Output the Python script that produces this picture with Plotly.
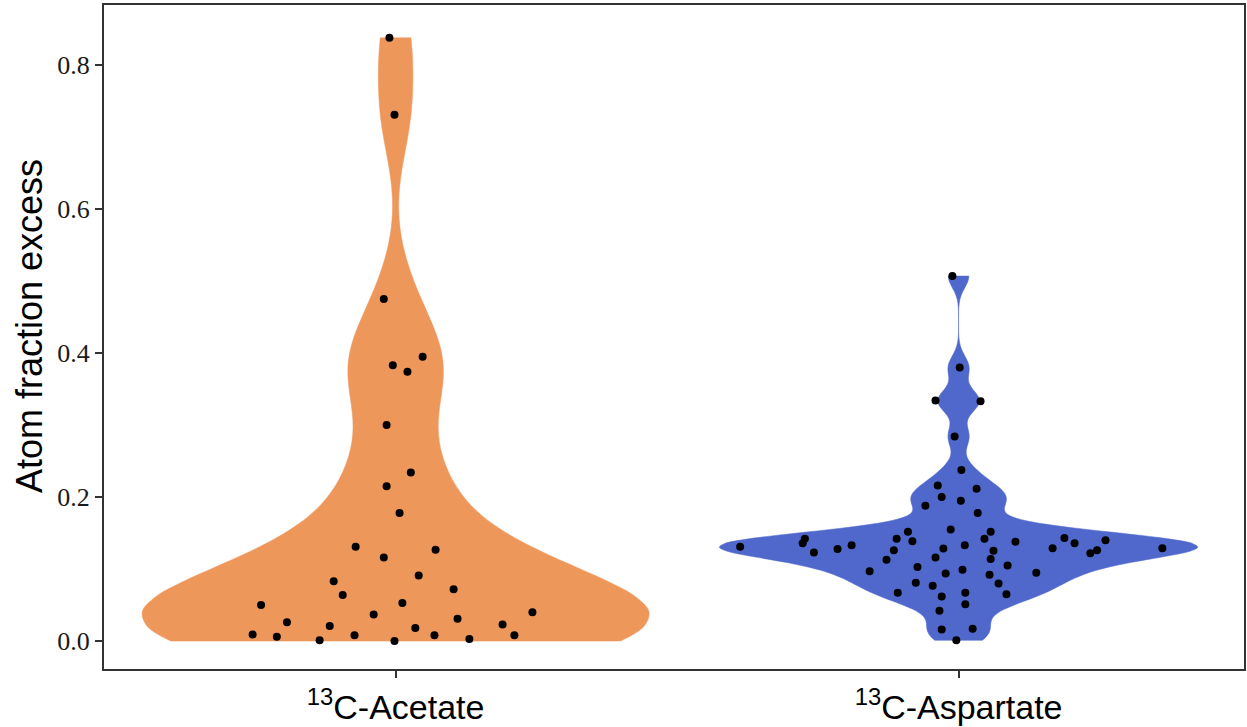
import numpy as np
import plotly.graph_objects as go

# Atom fraction excess per cell, with the horizontal spread of each point (category units)
acetate_y = [0.178, 0.131, 0.127, 0.116, 0.091, 0.083, 0.072, 0.064, 0.053, 0.050,
             0.040, 0.037, 0.031, 0.026, 0.023, 0.021, 0.018, 0.009, 0.006, 0.008,
             0.008, 0.008, 0.001, 0.000, 0.003, 0.838, 0.731, 0.475, 0.395, 0.383,
             0.374, 0.300, 0.234, 0.215]
acetate_dx = [0.007, -0.071, 0.071, -0.021, 0.041, -0.110, 0.103, -0.094, 0.012, -0.239,
              0.243, -0.039, 0.110, -0.193, 0.190, -0.117, 0.035, -0.254, -0.211, -0.073,
              0.069, 0.211, -0.135, -0.002, 0.131, -0.011, -0.002, -0.021, 0.048, -0.005,
              0.021, -0.016, 0.027, -0.016]

aspartate_y = [0.216, 0.2115, 0.200, 0.195, 0.188, 0.178, 0.155, 0.152, 0.152, 0.142,
               0.142, 0.142, 0.143, 0.140, 0.1385, 0.138, 0.136, 0.1357, 0.133, 0.133,
               0.131, 0.129, 0.129, 0.1287, 0.128, 0.126, 0.126, 0.1255, 0.123, 0.122,
               0.116, 0.114, 0.113, 0.105, 0.103, 0.099, 0.097, 0.095, 0.094, 0.092,
               0.081, 0.080, 0.077, 0.067, 0.067, 0.065, 0.062, 0.051, 0.042, 0.016,
               0.017, 0.001, 0.507, 0.380, 0.334, 0.333, 0.284, 0.2375]
aspartate_dx = [-0.037, 0.032, -0.030, 0.004, -0.059, 0.034, -0.014, -0.090, 0.057, -0.110,
                0.046, -0.273, 0.188, 0.261, -0.082, 0.101, -0.277, 0.206, -0.190, 0.011,
                -0.388, 0.362, 0.167, -0.027, -0.215, -0.115, 0.246, 0.062, -0.257, 0.234,
                -0.041, 0.057, -0.128, 0.087, -0.073, 0.007, -0.158, 0.138, -0.023, 0.055,
                -0.076, 0.071, -0.046, -0.108, 0.012, 0.085, -0.030, 0.012, -0.034, -0.030,
                0.025, -0.004, -0.011, 0.002, -0.041, 0.039, -0.007, 0.005]

categories = ["<sup>13</sup>C-Acetate", "<sup>13</sup>C-Aspartate"]
positions = [1, 2]
fills = ["#EE975B", "#5068CB"]
violin_widths = [0.90, 0.85]
y_ticks = [0.0, 0.2, 0.4, 0.6, 0.8]
y_title = "Atom fraction excess"


def nrd0(values):
    v = np.asarray(values, dtype=float)
    q75, q25 = np.percentile(v, [75, 25])
    spread = min(v.std(ddof=1), (q75 - q25) / 1.34)
    return 0.9 * spread * len(v) ** -0.2


fig = go.Figure()

for pos, ys, fill, w in zip(positions, [acetate_y, aspartate_y], fills, violin_widths):
    fig.add_trace(go.Violin(
        x=[pos] * len(ys), y=ys,
        width=w, scalemode="width", spanmode="hard",
        bandwidth=nrd0(ys),
        fillcolor=fill, line=dict(color=fill, width=0.5),
        opacity=1, points=False, hoverinfo="skip",
        box=dict(visible=False), meanline=dict(visible=False),
        showlegend=False,
    ))

for pos, ys, dxs in zip(positions, [acetate_y, aspartate_y], [acetate_dx, aspartate_dx]):
    fig.add_trace(go.Scatter(
        x=[pos + d for d in dxs], y=ys, mode="markers",
        marker=dict(color="black", size=8, line=dict(width=0)),
        showlegend=False, hoverinfo="skip",
    ))

axis_color = "#333333"
fig.update_layout(
    width=1247, height=727,
    margin=dict(l=104, r=1, t=5, b=57),
    paper_bgcolor="white", plot_bgcolor="white",
    violinmode="overlay",
    xaxis=dict(
        range=[0.482, 2.507], tickmode="array", tickvals=positions, ticktext=categories,
        showgrid=False, zeroline=False, showline=True, mirror=True,
        linecolor=axis_color, linewidth=2,
        ticks="outside", ticklen=7, tickwidth=1.5, tickcolor=axis_color,
        tickfont=dict(family="Liberation Sans, Arial, sans-serif", size=34, color="black"),
    ),
    yaxis=dict(
        range=[-0.0388, 0.8835], tickmode="array", tickvals=y_ticks,
        tickformat=".1f",
        showgrid=False, zeroline=False, showline=True, mirror=True,
        linecolor=axis_color, linewidth=2,
        ticks="outside", ticklen=7, tickwidth=1.5, tickcolor=axis_color,
        tickfont=dict(family="Liberation Serif, Times New Roman, serif", size=26, color="#1a1a1a"),
    ),
    annotations=[dict(
        text=y_title, textangle=-90, showarrow=False,
        xref="paper", yref="paper", x=-0.0655, y=0.517,
        xanchor="center", yanchor="middle",
        font=dict(family="Liberation Sans, Arial, sans-serif", size=36, color="black"),
    )],
)

fig.write_html("out.html")
